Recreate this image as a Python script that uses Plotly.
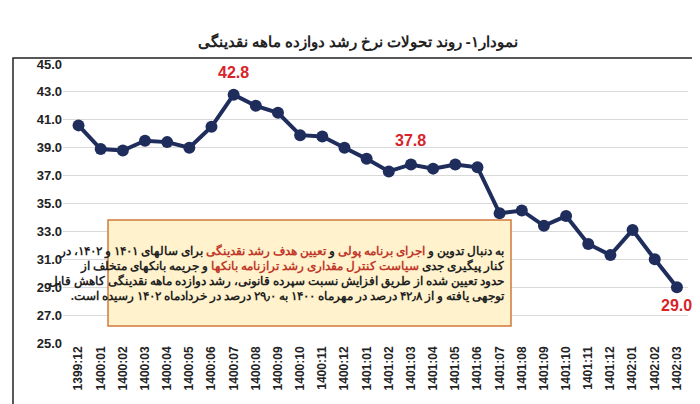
import plotly.graph_objects as go

labels = ["1399:12","1400:01","1400:02","1400:03","1400:04","1400:05","1400:06","1400:07","1400:08","1400:09","1400:10","1400:11","1400:12",
          "1401:01","1401:02","1401:03","1401:04","1401:05","1401:06","1401:07","1401:08","1401:09","1401:10","1401:11","1401:12",
          "1402:01","1402:02","1402:03"]
values = [40.6,38.9,38.8,39.5,39.4,39.0,40.5,42.8,42.0,41.5,39.9,39.8,39.0,
          38.2,37.3,37.8,37.5,37.8,37.6,34.3,34.5,33.4,34.1,32.1,31.3,
          33.1,31.0,29.0]
highlights = ["1400:07","1401:03","1402:03"]
yticks = [25,27,29,31,33,35,37,39,41,43,45]

navy = "#1F2D5C"
red = "#D9232A"
fig = go.Figure(go.Scatter(x=labels, y=values, mode="lines+markers",
    line=dict(color=navy, width=4), marker=dict(color=navy, size=12)))

offs = {"1400:07": 22, "1401:03": 24, "1402:03": -18}
for h in highlights:
    i = labels.index(h)
    fig.add_annotation(x=h, y=values[i], text="%.1f" % values[i], showarrow=False,
                       yshift=offs[h], font=dict(color=red, size=16, family="Liberation Sans", weight="bold"))

R = lambda s: '<span style="color:#C0392B">%s</span>' % s
lines = [
    "به دنبال تدوین و " + R("اجرای برنامه پولی") + " و " + R("تعیین هدف رشد نقدینگی") + " برای سالهای ۱۴۰۱ و ۱۴۰۲، در",
    "کنار پیگیری جدی " + R("سیاست کنترل مقداری رشد ترازنامه بانکها") + " و جریمه بانکهای متخلف از",
    "حدود تعیین شده از طریق افزایش نسبت سپرده قانونی، رشد دوازده ماهه نقدینگی کاهش قابل",
    "توجهی یافته و از ۴۲٫۸ درصد در مهرماه ۱۴۰۰ به ۲۹٫۰ درصد در خردادماه ۱۴۰۲ رسیده است.\u200f",
]
fig.add_shape(type="rect", xref="paper", yref="paper", x0=(100-55)/625, x1=(503-55)/625,
              y0=(335-318)/279, y1=(335-212)/279, fillcolor="#FFF2CC", line=dict(color="#D07A3A", width=1.5))
fig.add_annotation(xref="paper", yref="paper", x=(499-55)/625, y=(335-265)/279, xanchor="right", yanchor="middle",
                   text="<br>".join(lines), align="right", showarrow=False,
                   font=dict(size=11.5, color="#222", family="Noto Sans", weight="bold"))

fig.add_shape(type="rect", xref="paper", yref="paper", x0=-50/625, x1=(695-55)/625, y0=(335-398)/279, y1=(335-50)/279,
              line=dict(color="#222", width=1.5), layer="above")

fig.update_layout(
    width=700, height=404, margin=dict(l=55, r=20, t=56, b=69),
    paper_bgcolor="white", plot_bgcolor="white", showlegend=False,
    title=dict(text="نمودار۱- روند تحولات نرخ رشد دوازده ماهه نقدینگی", x=0.5, y=0.93, xanchor="center",
               font=dict(size=15, color="#222", family="Noto Sans", weight="bold")),
    font=dict(family="Liberation Sans", color="#222"),
)
fig.update_xaxes(tickangle=-90, tickfont=dict(size=12, family="Liberation Sans", weight="bold"), showgrid=False,
                 range=[-0.7, 27.5], ticks="")
fig.update_yaxes(range=[25, 45], tickvals=yticks, tickformat=".1f", showgrid=True, gridcolor="#D9D9D9",
                 zeroline=False, tickfont=dict(size=13, weight="bold"))
fig.write_html("out.html")
